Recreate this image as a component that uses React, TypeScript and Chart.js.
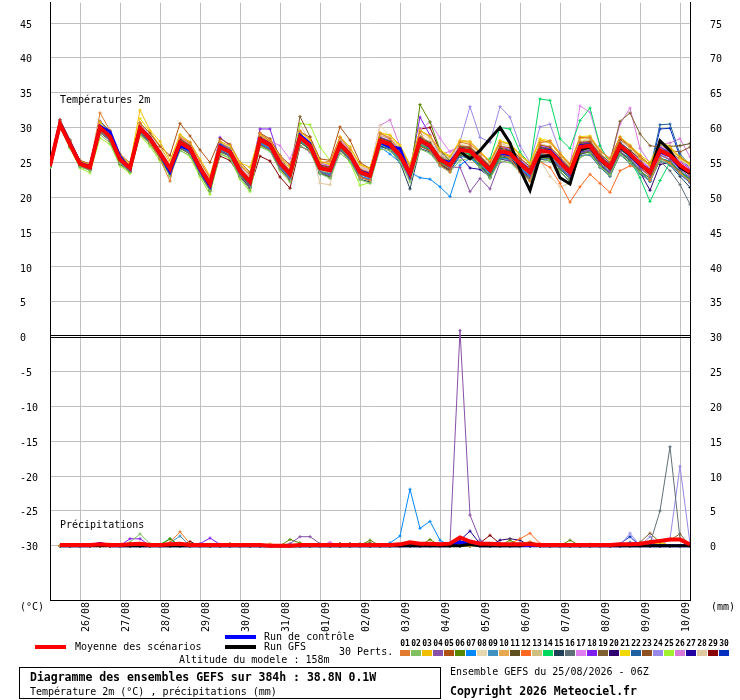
import React, { useEffect, useRef } from 'react';
import { Chart, registerables } from 'chart.js';

Chart.register(...registerables);

// ---------- axes / categories ----------
const forecastHours = [0, 6, 12, 18, 24, 30, 36, 42, 48, 54, 60, 66, 72, 78, 84, 90, 96, 102, 108, 114, 120, 126, 132, 138, 144, 150, 156, 162, 168, 174, 180, 186, 192, 198, 204, 210, 216, 222, 228, 234, 240, 246, 252, 258, 264, 270, 276, 282, 288, 294, 300, 306, 312, 318, 324, 330, 336, 342, 348, 354, 360, 366, 372, 378, 384];
const precipHours = forecastHours.slice(1);
const dayTickHours = [18, 42, 66, 90, 114, 138, 162, 186, 210, 234, 258, 282, 306, 330, 354, 378];
const dateLabels = ['26/08', '27/08', '28/08', '29/08', '30/08', '31/08', '01/09', '02/09', '03/09', '04/09', '05/09', '06/09', '07/09', '08/09', '09/09', '10/09'];
const tempTicks = [-30, -25, -20, -15, -10, -5, 0, 5, 10, 15, 20, 25, 30, 35, 40, 45];
const precipTicks = [0, 5, 10, 15, 20, 25, 30, 35, 40, 45, 50, 55, 60, 65, 70, 75];
const memberNames = ['01', '02', '03', '04', '05', '06', '07', '08', '09', '10', '11', '12', '13', '14', '15', '16', '17', '18', '19', '20', '21', '22', '23', '24', '25', '26', '27', '28', '29', '30'];
const memberColors = ['#e07b30', '#80c060', '#f0c000', '#8850a8', '#b05010', '#588800', '#0088ff', '#e8d8b0', '#4090c0', '#e8a850', '#605020', '#ff6820', '#d0c080', '#00d860', '#204058', '#607078', '#e080f0', '#8020f0', '#806030', '#300070', '#f0d800', '#2060a0', '#905020', '#9888e8', '#a0f030', '#d878d8', '#2000a0', '#e0c8a0', '#880000', '#0030c0'];

// ---------- texts ----------
const tempPanelLabel = 'Températures 2m';
const precipPanelLabel = 'Précipitations';
const leftUnit = '(°C)';
const rightUnit = '(mm)';
const meanLabel = 'Moyenne des scénarios';
const controlLabel = 'Run de contrôle';
const gfsLabel = 'Run GFS';
const pertsLabel = '30 Perts.';
const altitudeLabel = 'Altitude du modele : 158m';
const titleLine1 = 'Diagramme des ensembles GEFS sur 384h : 38.8N 0.1W';
const titleLine2 = 'Température 2m (°C) , précipitations (mm)';
const runLabel = 'Ensemble GEFS du 25/08/2026 - 06Z';
const copyrightLabel = 'Copyright 2026 Meteociel.fr';

// ---------- temperature 2m (°C), every 6 h ----------
const meanTemp = [
  24.5, 30.5, 27.6, 24.8, 24.3, 30.0, 28.7, 25.4,
  24.2, 29.9, 28.4, 26.3, 24.1, 27.9, 27.0, 24.2,
  21.9, 27.2, 26.5, 23.8, 22.2, 28.3, 27.5, 24.9,
  23.3, 28.6, 27.4, 24.2, 23.9, 27.6, 26.1, 23.6,
  23.1, 28.1, 27.6, 26.0, 23.4, 28.2, 27.4, 25.4,
  24.6, 26.8, 26.6, 25.3, 23.9, 26.6, 26.3, 24.8,
  23.6, 26.7, 26.5, 25.0, 23.6, 27.2, 27.4, 25.5,
  24.3, 27.4, 26.2, 24.8, 23.6, 26.7, 26.0, 24.6,
  23.6];
const controlTemp = [
  24.5, 30.6, 27.8, 24.9, 24.4, 30.2, 29.4, 25.8,
  24.1, 29.9, 28.5, 26.2, 23.6, 27.4, 26.8, 23.9,
  21.6, 27.4, 26.6, 23.8, 22.1, 28.4, 27.6, 25.0,
  23.4, 28.9, 27.7, 24.3, 23.9, 27.6, 26.1, 23.7,
  23.3, 27.9, 27.2, 27.0, 23.2, 28.3, 27.2, 25.3,
  25.0, 26.9, 26.6, 25.3, 24.0, 26.4, 26.1, 24.9,
  23.5, 26.6, 26.7, 25.2, 23.4, 27.4, 27.5, 25.4,
  24.4, 27.3, 26.0, 24.6, 23.7, 26.5, 25.9, 24.3,
  23.5];
const gfsTemp = [
  24.5, 30.5, 27.6, 24.8, 24.3, 30.0, 28.7, 25.4,
  24.2, 29.9, 28.4, 26.3, 24.1, 27.9, 27.0, 24.2,
  21.9, 27.2, 26.5, 23.8, 22.2, 28.3, 27.5, 24.9,
  23.3, 28.6, 27.4, 24.2, 23.9, 27.6, 26.1, 23.6,
  23.1, 28.1, 27.6, 26.0, 23.4, 28.2, 27.4, 25.4,
  24.6, 26.6, 25.5, 26.7, 28.4, 30.0, 27.8, 24.0,
  21.0, 25.8, 26.0, 22.8, 21.9, 26.8, 27.2, 25.4,
  24.2, 27.2, 26.1, 24.7, 23.5, 28.1, 26.7, 24.3,
  23.4];

const t01 = [
  24.6, 30.9, 28.0, 25.2, 24.6, 32.1, 29.6, 26.0,
  24.0, 30.7, 27.9, 25.5, 22.3, 28.6, 27.8, 25.2,
  22.8, 27.9, 26.9, 24.6, 23.3, 29.2, 28.0, 25.7,
  23.8, 29.5, 26.8, 24.9, 25.2, 28.6, 26.8, 22.9,
  22.4, 29.2, 28.4, 26.8, 24.4, 29.4, 26.8, 24.6,
  23.6, 27.9, 27.6, 26.4, 25.0, 27.8, 25.6, 23.6,
  22.3, 27.8, 28.1, 26.2, 24.8, 28.6, 28.5, 26.6,
  25.6, 28.6, 27.3, 25.9, 22.4, 25.6, 24.9, 23.5,
  22.3];
const t02 = [
  24.3, 30.1, 27.1, 24.4, 23.8, 29.0, 27.8, 24.8,
  23.6, 29.0, 27.6, 25.5, 23.0, 26.7, 26.0, 23.2,
  20.9, 26.2, 25.6, 22.8, 21.0, 27.2, 26.6, 23.8,
  22.2, 27.4, 26.6, 23.4, 22.7, 26.3, 25.2, 22.5,
  22.0, 26.9, 26.7, 25.1, 22.2, 26.9, 26.3, 24.5,
  23.6, 25.3, 25.6, 24.3, 22.7, 25.2, 25.0, 23.6,
  22.4, 25.1, 25.3, 23.7, 22.3, 25.7, 26.3, 24.4,
  23.2, 26.2, 25.0, 23.6, 22.4, 25.3, 24.8, 23.5,
  22.4];
const t03 = [
  24.6, 30.8, 28.1, 25.2, 24.7, 30.8, 29.4, 26.0,
  24.8, 32.5, 29.6, 28.0, 25.3, 29.0, 27.9, 25.5,
  23.1, 28.0, 27.4, 25.0, 24.3, 29.0, 28.1, 25.8,
  24.4, 29.4, 28.3, 25.2, 24.7, 28.6, 27.2, 24.7,
  24.1, 29.2, 28.9, 27.5, 24.7, 29.6, 28.8, 26.8,
  25.9, 28.0, 27.9, 26.4, 25.2, 28.1, 27.6, 26.0,
  24.8, 28.2, 27.9, 26.1, 24.6, 28.4, 28.6, 26.7,
  25.4, 28.6, 27.2, 25.7, 24.6, 27.8, 27.1, 25.6,
  24.7];
const t04 = [
  24.4, 30.1, 27.3, 24.5, 24.0, 29.4, 28.1, 24.9,
  23.8, 29.2, 27.9, 25.9, 23.6, 27.1, 26.3, 23.5,
  21.2, 26.6, 25.9, 23.1, 21.5, 27.6, 26.8, 24.2,
  22.6, 27.4, 26.5, 23.6, 23.1, 26.7, 25.5, 22.9,
  22.5, 27.8, 27.3, 25.6, 22.7, 27.9, 27.2, 25.3,
  24.3, 24.3, 20.8, 22.7, 21.2, 25.0, 25.4, 23.9,
  22.8, 25.9, 25.7, 24.3, 22.9, 26.4, 26.7, 24.8,
  23.6, 26.6, 25.5, 24.1, 23.0, 26.0, 25.4, 24.0,
  22.9];
const t05 = [
  24.6, 31.1, 28.2, 25.3, 24.8, 30.8, 29.4, 26.2,
  24.9, 30.6, 29.2, 27.3, 26.0, 30.6, 28.8, 26.8,
  25.0, 28.4, 27.6, 25.0, 23.6, 29.2, 28.4, 26.0,
  24.6, 29.4, 28.6, 25.5, 25.3, 30.1, 28.2, 25.0,
  24.1, 28.0, 27.1, 25.6, 22.8, 27.3, 26.7, 24.8,
  24.0, 27.3, 27.2, 25.9, 24.5, 27.3, 27.1, 25.6,
  24.4, 27.5, 27.2, 25.7, 24.2, 27.9, 28.0, 26.2,
  25.0, 28.3, 27.3, 25.9, 24.6, 27.8, 27.0, 25.7,
  24.8];
const t06 = [
  24.3, 30.2, 27.2, 24.4, 23.9, 29.3, 28.2, 24.7,
  23.7, 29.2, 27.7, 25.5, 23.2, 27.0, 26.2, 23.4,
  21.0, 26.5, 25.9, 23.2, 21.6, 27.5, 26.7, 24.1,
  22.6, 27.9, 26.9, 23.5, 23.0, 27.0, 25.5, 22.9,
  22.4, 28.0, 27.3, 25.6, 22.9, 33.3, 30.8, 26.8,
  25.2, 26.1, 26.0, 24.7, 23.1, 25.8, 25.6, 23.9,
  22.6, 25.7, 25.5, 24.1, 22.6, 26.3, 26.5, 24.6,
  23.3, 26.5, 25.3, 23.8, 22.7, 25.6, 25.1, 23.7,
  22.6];
const t07 = [
  24.5, 30.6, 27.6, 24.8, 24.4, 30.3, 29.0, 25.5,
  24.3, 30.1, 28.6, 26.3, 23.7, 27.4, 26.5, 23.7,
  21.4, 27.7, 27.0, 24.2, 22.4, 27.8, 26.9, 24.2,
  22.8, 28.0, 26.8, 23.4, 23.2, 26.9, 25.4, 23.0,
  22.6, 27.2, 26.2, 25.0, 23.6, 22.8, 22.6, 21.5,
  20.1, 24.6, 25.6, 24.7, 23.4, 25.8, 25.4, 24.2,
  23.0, 25.9, 25.7, 24.2, 22.8, 26.4, 26.5, 24.6,
  23.5, 26.5, 25.3, 23.8, 22.6, 25.6, 25.2, 23.7,
  22.8];
const t08 = [
  24.5, 30.9, 27.9, 25.1, 24.6, 30.6, 29.3, 25.9,
  24.6, 30.7, 29.1, 27.0, 24.9, 28.7, 27.8, 25.0,
  22.7, 28.0, 27.2, 24.6, 23.0, 29.0, 28.3, 25.8,
  24.1, 29.4, 28.3, 25.0, 24.7, 28.5, 26.9, 24.4,
  23.9, 30.3, 28.8, 26.9, 24.1, 29.2, 28.3, 26.2,
  25.4, 27.6, 27.4, 26.1, 24.7, 27.6, 27.3, 25.7,
  24.5, 27.6, 27.4, 25.9, 24.4, 28.1, 28.4, 26.4,
  25.1, 28.3, 27.1, 25.6, 24.5, 27.6, 26.9, 25.5,
  24.5];
const t09 = [
  24.4, 30.3, 27.4, 24.6, 24.1, 29.6, 28.3, 25.0,
  23.8, 29.5, 28.0, 25.8, 23.6, 27.3, 26.5, 23.7,
  21.3, 26.8, 26.1, 23.4, 21.7, 27.8, 27.0, 24.4,
  22.8, 28.1, 26.9, 23.7, 23.3, 27.0, 25.6, 23.0,
  22.6, 27.5, 27.0, 25.3, 22.7, 27.4, 26.6, 24.5,
  23.7, 25.9, 25.7, 24.4, 22.9, 25.6, 25.4, 23.8,
  22.5, 25.6, 25.3, 23.8, 22.3, 25.9, 26.1, 24.3,
  23.1, 26.2, 25.0, 23.5, 22.3, 25.3, 24.7, 23.3,
  22.2];
const t10 = [
  24.6, 30.7, 27.9, 25.1, 24.5, 30.5, 29.2, 25.9,
  24.6, 30.7, 29.2, 27.3, 24.9, 28.8, 27.9, 25.0,
  22.9, 28.0, 27.2, 24.6, 23.0, 29.1, 28.3, 25.7,
  24.2, 29.5, 28.3, 25.1, 24.8, 28.6, 27.1, 24.6,
  24.1, 29.1, 28.6, 27.1, 24.5, 29.5, 28.6, 26.5,
  25.7, 28.1, 28.0, 26.5, 25.1, 27.9, 27.6, 26.1,
  24.9, 28.1, 27.8, 26.2, 24.8, 28.5, 28.7, 26.7,
  25.5, 28.6, 27.4, 25.9, 24.7, 27.9, 27.2, 25.6,
  24.8];
const t11 = [
  24.5, 30.5, 27.6, 24.8, 24.3, 30.1, 28.9, 25.5,
  24.0, 30.0, 28.7, 26.6, 24.4, 28.3, 27.4, 24.6,
  22.3, 27.4, 26.7, 24.0, 22.5, 28.6, 27.7, 25.1,
  23.5, 28.9, 27.8, 24.6, 24.3, 27.9, 26.4, 23.9,
  23.4, 28.5, 28.0, 26.4, 23.7, 28.6, 27.8, 25.7,
  24.9, 27.2, 27.0, 25.7, 24.3, 27.0, 26.7, 25.2,
  24.0, 27.1, 26.9, 25.4, 24.0, 27.6, 27.8, 25.9,
  24.7, 27.8, 26.7, 25.5, 24.8, 27.5, 27.3, 27.4,
  27.7];
const t12 = [
  24.6, 30.7, 27.8, 25.0, 24.5, 30.4, 29.1, 25.7,
  24.4, 30.2, 28.7, 26.6, 24.6, 28.4, 27.5, 24.7,
  22.4, 27.6, 26.9, 24.2, 22.6, 28.7, 27.9, 25.3,
  23.7, 29.0, 27.8, 24.6, 24.3, 28.0, 26.5, 24.0,
  23.5, 28.4, 27.9, 26.3, 23.7, 28.4, 27.6, 25.5,
  24.7, 26.9, 26.6, 25.3, 23.9, 26.5, 25.5, 23.7,
  22.7, 25.1, 24.3, 22.0, 19.3, 21.5, 23.3, 22.0,
  20.7, 23.8, 24.5, 24.1, 23.3, 26.1, 25.4, 24.1,
  23.2];
const t13 = [
  24.5, 30.3, 27.3, 24.5, 24.0, 29.4, 28.2, 25.0,
  23.9, 29.5, 28.2, 26.1, 23.9, 28.2, 27.3, 24.5,
  22.3, 27.6, 26.9, 24.2, 22.8, 28.9, 28.0, 25.3,
  23.6, 28.5, 27.0, 23.8, 23.6, 28.1, 26.7, 24.1,
  23.7, 28.9, 28.3, 26.7, 24.2, 28.7, 27.9, 26.0,
  25.3, 27.5, 27.3, 26.0, 24.6, 27.7, 27.3, 25.7,
  24.4, 27.6, 27.3, 25.7, 24.4, 28.1, 28.2, 26.3,
  25.1, 28.2, 27.0, 25.6, 24.5, 27.5, 26.8, 25.4,
  24.6];
const t14 = [
  24.4, 30.2, 27.3, 24.5, 24.0, 29.4, 28.2, 24.9,
  23.8, 29.3, 27.8, 25.7, 23.4, 27.2, 26.3, 23.5,
  21.2, 26.5, 25.9, 23.2, 21.6, 27.6, 26.9, 24.3,
  22.8, 28.0, 26.9, 23.7, 23.3, 26.9, 25.5, 22.9,
  22.5, 27.6, 27.0, 25.4, 22.8, 27.5, 26.9, 25.0,
  24.4, 26.5, 26.2, 25.1, 25.5, 30.0, 29.8, 26.5,
  24.6, 34.1, 33.9, 28.4, 27.0, 31.0, 32.8, 27.4,
  24.8, 27.6, 25.3, 22.8, 19.4, 22.4, 25.0, 23.8,
  22.3];
const t15 = [
  24.4, 30.2, 27.3, 24.5, 23.9, 29.5, 28.3, 25.0,
  23.8, 29.4, 27.9, 25.7, 23.4, 27.2, 26.3, 23.3,
  20.9, 26.6, 25.9, 23.0, 21.3, 27.6, 26.8, 24.1,
  22.5, 28.0, 26.8, 23.4, 22.9, 26.8, 25.3, 22.6,
  22.2, 27.3, 26.8, 25.0, 21.2, 27.0, 26.5, 24.7,
  23.9, 25.9, 25.6, 24.3, 22.8, 25.5, 25.2, 23.7,
  22.4, 25.5, 25.2, 23.7, 22.2, 26.0, 26.1, 24.3,
  23.0, 26.1, 24.9, 23.4, 22.3, 25.3, 24.6, 23.0,
  21.4];
const t16 = [
  24.5, 30.5, 27.6, 24.8, 24.3, 30.0, 28.5, 25.2,
  24.2, 29.7, 28.1, 26.0, 23.8, 27.6, 26.7, 23.9,
  21.6, 26.9, 26.3, 23.6, 22.0, 28.0, 27.2, 24.6,
  23.1, 28.3, 27.1, 23.9, 23.6, 27.3, 25.8, 23.3,
  22.8, 27.7, 27.1, 25.5, 23.0, 27.6, 26.7, 24.9,
  24.2, 26.4, 26.2, 24.9, 23.5, 26.1, 25.8, 24.3,
  23.1, 26.2, 26.0, 24.5, 23.1, 26.7, 26.8, 24.9,
  23.8, 26.9, 25.7, 24.3, 23.0, 25.2, 23.8, 21.8,
  19.0];
const t17 = [
  24.6, 30.9, 28.0, 25.2, 24.6, 30.5, 29.3, 26.0,
  24.5, 30.4, 29.0, 26.9, 24.6, 28.5, 27.6, 24.8,
  22.5, 27.7, 27.0, 24.5, 22.9, 28.9, 28.1, 27.4,
  25.5, 29.1, 28.0, 24.8, 24.5, 28.3, 26.8, 24.4,
  23.8, 28.9, 28.4, 26.8, 24.1, 29.7, 30.8, 28.5,
  26.5, 27.3, 27.3, 26.0, 24.6, 27.3, 27.0, 25.5,
  24.2, 27.5, 27.2, 25.7, 24.6, 33.1, 32.2, 27.3,
  25.0, 28.3, 27.0, 25.5, 24.2, 27.4, 26.6, 25.2,
  24.2];
const t18 = [
  24.5, 30.8, 27.9, 25.0, 24.5, 30.4, 29.1, 25.7,
  24.4, 30.1, 28.6, 26.5, 24.5, 28.4, 27.5, 24.6,
  22.5, 28.6, 27.4, 24.4, 23.2, 29.8, 29.8, 25.3,
  23.8, 29.1, 27.9, 24.7, 24.4, 28.1, 26.6, 24.1,
  23.6, 28.6, 28.1, 26.5, 23.9, 31.5, 28.9, 26.1,
  25.3, 27.4, 27.2, 25.8, 24.4, 27.2, 26.9, 25.3,
  24.1, 27.3, 27.0, 25.5, 24.1, 27.8, 27.9, 26.0,
  24.8, 27.9, 26.7, 25.3, 24.1, 27.2, 26.5, 25.1,
  24.1];
const t19 = [
  24.5, 30.4, 27.5, 24.7, 24.2, 29.8, 28.5, 25.2,
  24.0, 29.6, 28.3, 26.2, 24.0, 28.1, 27.3, 24.5,
  22.3, 27.5, 26.8, 24.1, 22.5, 28.6, 27.8, 25.3,
  23.8, 31.6, 28.7, 25.0, 24.5, 28.1, 26.6, 24.0,
  23.4, 28.4, 28.0, 26.4, 23.7, 28.7, 27.9, 25.9,
  25.0, 27.3, 27.1, 25.7, 24.3, 27.1, 26.7, 25.2,
  24.0, 27.2, 27.0, 25.4, 24.0, 27.7, 27.9, 26.0,
  25.2, 30.9, 32.1, 29.1, 27.4, 27.2, 26.3, 25.2,
  24.2];
const t20 = [
  24.4, 30.2, 27.3, 24.5, 24.0, 29.5, 28.2, 24.9,
  23.7, 29.3, 27.9, 25.8, 23.5, 27.3, 26.5, 23.7,
  21.3, 26.7, 26.0, 23.3, 21.7, 27.7, 26.9, 24.3,
  22.7, 27.9, 26.8, 23.6, 23.2, 26.9, 25.4, 22.9,
  22.4, 27.4, 27.0, 25.3, 22.6, 27.5, 26.8, 24.7,
  23.8, 25.9, 25.8, 24.5, 23.0, 25.7, 25.5, 23.9,
  22.7, 25.8, 25.6, 24.1, 22.6, 26.2, 26.5, 24.6,
  23.4, 26.5, 25.2, 23.6, 21.0, 24.7, 25.0, 23.7,
  22.6];
const t21 = [
  24.6, 30.8, 28.0, 25.2, 24.7, 30.7, 29.4, 26.1,
  24.7, 31.3, 29.4, 27.4, 24.9, 28.9, 27.9, 25.0,
  22.9, 27.9, 27.3, 24.7, 23.5, 29.0, 28.2, 25.7,
  24.2, 29.3, 28.3, 25.1, 24.8, 28.7, 27.2, 24.7,
  24.2, 29.3, 28.9, 27.3, 24.6, 29.6, 28.7, 26.6,
  25.8, 28.2, 28.0, 26.6, 25.2, 28.1, 27.7, 26.2,
  25.0, 28.4, 28.1, 26.4, 24.8, 28.7, 28.8, 26.8,
  25.5, 28.7, 27.5, 26.1, 25.0, 28.0, 27.3, 25.8,
  24.9];
const t22 = [
  24.5, 30.6, 27.7, 24.9, 24.4, 30.3, 29.0, 25.6,
  24.3, 30.1, 28.6, 26.5, 24.3, 28.0, 27.1, 24.3,
  22.0, 27.4, 26.7, 24.0, 22.4, 28.5, 27.7, 25.1,
  23.5, 28.8, 27.6, 24.4, 24.1, 27.8, 26.3, 23.8,
  23.3, 28.3, 27.8, 26.2, 23.6, 28.4, 27.6, 25.6,
  24.8, 27.0, 26.8, 25.5, 24.1, 26.8, 26.5, 25.0,
  23.8, 26.9, 26.7, 25.2, 23.8, 27.4, 27.7, 25.7,
  24.5, 27.7, 26.4, 25.0, 24.0, 30.4, 30.5, 26.2,
  24.6];
const t23 = [
  24.4, 30.3, 27.4, 24.6, 24.1, 29.6, 28.3, 25.0,
  23.9, 29.4, 28.0, 25.9, 23.7, 27.5, 26.6, 23.8,
  21.4, 26.8, 26.1, 23.4, 21.8, 27.9, 27.1, 24.5,
  22.9, 28.2, 27.0, 23.8, 23.5, 27.2, 25.8, 23.3,
  22.8, 27.7, 27.2, 25.6, 23.0, 27.7, 27.0, 25.0,
  24.2, 26.4, 26.2, 24.9, 23.5, 26.2, 25.9, 24.4,
  23.2, 26.3, 26.1, 24.6, 23.2, 26.8, 27.0, 25.1,
  24.0, 26.9, 25.8, 24.5, 23.9, 26.6, 26.7, 26.5,
  27.2];
const t24 = [
  24.5, 30.6, 27.7, 24.9, 24.4, 30.2, 28.9, 25.6,
  24.3, 30.0, 28.5, 26.5, 24.3, 28.1, 27.2, 24.4,
  22.1, 27.4, 26.7, 24.0, 22.4, 28.5, 27.7, 25.1,
  23.6, 28.8, 27.6, 24.4, 24.1, 27.8, 26.3, 23.9,
  23.4, 28.4, 27.9, 26.4, 23.8, 28.6, 27.9, 26.3,
  25.4, 28.0, 33.0, 28.6, 27.9, 33.0, 31.5, 27.4,
  25.0, 30.1, 30.5, 26.5, 24.0, 27.3, 27.5, 25.6,
  24.4, 27.5, 26.3, 24.9, 23.8, 26.4, 25.4, 23.4,
  23.0];
const t25 = [
  24.3, 30.0, 27.0, 24.2, 23.5, 28.5, 27.6, 24.5,
  23.4, 28.8, 27.3, 25.2, 23.1, 26.8, 25.8, 22.9,
  20.4, 26.3, 25.6, 22.6, 20.8, 27.3, 26.8, 24.0,
  22.3, 30.6, 30.4, 27.2, 25.3, 26.8, 25.0, 21.7,
  22.1, 27.3, 27.0, 25.3, 22.8, 27.6, 26.8, 24.9,
  24.2, 26.4, 26.3, 25.0, 23.7, 26.7, 26.4, 24.8,
  23.6, 26.7, 26.6, 25.0, 23.6, 27.6, 28.7, 26.2,
  24.4, 27.6, 26.3, 24.9, 23.8, 27.2, 26.5, 25.1,
  24.9];
const t26 = [
  24.6, 30.8, 28.0, 25.1, 24.6, 30.4, 29.1, 25.7,
  24.4, 30.3, 28.8, 26.7, 24.5, 28.4, 27.4, 24.6,
  22.4, 27.6, 26.9, 24.3, 22.7, 28.7, 28.1, 25.9,
  24.7, 29.1, 28.0, 24.8, 24.5, 28.2, 26.7, 24.3,
  24.0, 30.3, 31.1, 27.3, 24.1, 28.6, 27.6, 26.1,
  26.6, 27.4, 27.1, 25.8, 24.4, 27.3, 27.0, 25.5,
  24.3, 27.5, 27.2, 25.7, 24.4, 27.8, 28.0, 26.1,
  25.2, 30.5, 32.8, 27.0, 24.9, 27.6, 27.8, 28.4,
  25.8];
const t27 = [
  24.5, 30.4, 27.5, 24.7, 24.2, 29.8, 28.5, 25.2,
  23.9, 29.6, 28.1, 26.0, 23.8, 27.6, 26.7, 23.9,
  21.5, 26.9, 26.2, 23.5, 21.9, 28.0, 27.2, 24.6,
  23.0, 28.3, 27.1, 23.9, 23.6, 27.3, 25.8, 23.3,
  22.8, 27.8, 27.3, 25.7, 23.1, 27.9, 27.1, 25.1,
  24.3, 25.9, 24.2, 24.0, 22.9, 26.0, 25.7, 24.1,
  22.8, 26.1, 25.8, 24.3, 22.9, 26.5, 26.7, 24.7,
  23.5, 26.6, 25.3, 23.8, 22.3, 25.6, 24.9, 23.3,
  22.1];
const t28 = [
  24.5, 30.7, 27.7, 24.9, 24.4, 30.0, 28.7, 25.4,
  24.2, 30.1, 28.6, 26.5, 24.2, 28.1, 27.0, 24.3,
  21.9, 27.4, 26.7, 24.0, 22.4, 28.4, 27.6, 24.7,
  22.8, 30.5, 27.8, 22.0, 21.8, 27.8, 26.3, 23.6,
  23.2, 28.7, 28.1, 26.4, 23.7, 28.7, 27.8, 25.8,
  24.9, 27.1, 26.9, 25.6, 24.2, 26.9, 26.4, 24.2,
  23.0, 25.4, 23.0, 21.5, 22.0, 26.3, 26.8, 25.0,
  24.0, 27.2, 26.0, 24.6, 23.5, 26.5, 25.9, 24.6,
  23.5];
const t29 = [
  24.3, 30.1, 27.2, 24.4, 23.9, 29.3, 28.1, 24.8,
  23.6, 29.1, 27.8, 25.7, 23.3, 27.1, 26.2, 23.4,
  21.0, 25.9, 25.3, 23.0, 21.4, 25.9, 25.2, 22.9,
  21.3, 27.3, 26.7, 23.7, 23.3, 27.0, 25.5, 23.0,
  22.5, 27.5, 27.1, 25.5, 22.9, 29.8, 30.0, 26.6,
  24.9, 27.0, 26.8, 25.5, 24.4, 26.8, 26.6, 25.1,
  23.8, 26.9, 26.7, 25.2, 23.8, 27.4, 27.6, 25.7,
  24.5, 27.6, 26.4, 25.0, 23.8, 26.9, 26.4, 25.5,
  24.8];
const t30 = [
  24.6, 31.1, 28.2, 25.2, 24.7, 30.9, 29.5, 25.9,
  24.5, 30.3, 28.8, 26.6, 24.2, 28.0, 27.0, 24.1,
  21.8, 27.8, 27.0, 24.2, 22.5, 28.8, 27.9, 25.3,
  23.6, 29.1, 27.9, 24.4, 24.0, 27.8, 26.3, 23.8,
  23.3, 28.4, 27.8, 26.3, 23.7, 28.5, 27.7, 25.7,
  24.9, 27.1, 26.9, 25.6, 24.2, 27.0, 26.7, 25.2,
  23.9, 27.1, 26.9, 25.4, 23.9, 27.5, 27.7, 25.8,
  24.6, 27.7, 26.4, 25.0, 23.7, 29.8, 29.9, 25.8,
  24.2];

// ---------- precipitation (mm / 6 h), from +6 h ----------
const meanPrecip = [
  0.1, 0.1, 0.1, 0.1, 0.2, 0.1, 0.1, 0.2, 0.3, 0.1, 0.1, 0.2, 0.3, 0.1, 0.1, 0.1,
  0.1, 0.1, 0.1, 0.1, 0.1, 0.0, 0.0, 0.0, 0.1, 0.1, 0.1, 0.1, 0.1, 0.1, 0.1, 0.1,
  0.1, 0.1, 0.2, 0.5, 0.3, 0.3, 0.2, 0.3, 1.2, 0.6, 0.3, 0.3, 0.2, 0.2, 0.2, 0.2,
  0.1, 0.1, 0.1, 0.1, 0.1, 0.1, 0.1, 0.1, 0.2, 0.2, 0.3, 0.5, 0.7, 0.9, 0.9, 0.2];
const controlPrecip = [
  0, 0, 0, 0, 0.3, 0, 0, 0, 0, 0, 0, 0, 0, 0, 0, 0,
  0, 0, 0, 0, 0, 0, 0, 0, 0, 0, 0, 0, 0, 0, 0, 0,
  0, 0, 0, 0, 0, 0, 0, 0, 0.5, 0.4, 0, 0, 0, 0, 0, 0,
  0, 0, 0, 0, 0, 0, 0, 0, 0, 0, 0, 0, 0, 0, 0, 0];
const gfsPrecip = [
  0, 0, 0, 0, 0, 0, 0, 0, 0, 0, 0, 0, 0, 0, 0, 0,
  0, 0, 0, 0, 0, 0, 0, 0, 0, 0, 0, 0, 0, 0, 0, 0,
  0, 0, 0, 0, 0, 0, 0, 0, 0, 0.2, 0, 0, 0, 0, 0, 0.3,
  0, 0, 0, 0, 0, 0, 0, 0, 0, 0, 0, 0, 0, 0, 0, 0];
const p01 = [
  0, 0, 0, 0, 0, 0, 0, 0, 0, 0, 0, 0.5, 2.0, 0.3, 0, 0,
  0, 0.3, 0, 0, 0, 0, 0, 0, 0, 0, 0, 0, 0, 0, 0, 0,
  0, 0, 0, 0, 0, 0, 0, 0, 0, 0, 0, 0, 0, 0, 0.3, 0.6,
  0.2, 0, 0, 0, 0, 0, 0, 0, 0, 0, 0, 0, 0, 0, 0, 0];
const p02 = [
  0, 0, 0, 0, 0, 0, 0, 0.5, 1.7, 0.3, 0, 0, 0, 0, 0, 0,
  0, 0, 0, 0, 0, 0, 0, 0, 0, 0, 0, 0, 0, 0, 0, 0,
  0, 0, 0, 0, 0, 0, 0, 0, 0.4, 0, 0, 0, 0, 0, 0, 0,
  0, 0, 0, 0, 0, 0, 0, 0, 0, 0, 0, 0, 0, 0, 0, 0];
const p03 = [
  0, 0, 0, 0, 0, 0, 0, 0, 0, 0, 0, 0, 0, 0, 0, 0,
  0, 0, 0, 0, 0, 0, 0, 0, 0, 0, 0, 0, 0, 0, 0, 0,
  0, 0, 0, 0, 0, 0, 0, 0, 0.5, 0, 0, 0, 0, 0, 0, 0,
  0, 0, 0, 0, 0, 0, 0, 0, 0, 0, 0, 0, 0.6, 0, 0, 0];
const p04 = [
  0, 0, 0, 0, 0, 0, 0, 0, 0, 0, 0, 0, 0, 0, 0, 0,
  0, 0, 0, 0, 0, 0, 0, 0.3, 1.3, 1.3, 0.3, 0, 0, 0, 0, 0,
  0, 0, 0, 0, 0, 0, 0, 0.3, 30.9, 4.4, 0.8, 0, 0, 0, 0, 0,
  0, 0, 0, 0, 0, 0, 0, 0, 0, 0, 0, 0, 0, 0, 0, 0];
const p05 = [
  0, 0, 0, 0, 0, 0, 0, 0, 0, 0, 0, 0, 0, 0, 0, 0,
  0, 0.3, 0, 0, 0, 0, 0, 0, 0, 0, 0, 0, 0, 0, 0, 0,
  0, 0, 0, 0, 0, 0, 0, 0, 0, 0, 0, 0, 0.3, 0, 0, 0,
  0, 0, 0, 0, 0, 0, 0, 0, 0, 0, 0, 0, 0, 0, 0, 0];
const p06 = [
  0, 0, 0, 0, 0, 0, 0, 0, 0, 0, 0, 1.0, 0, 0, 0, 0,
  0, 0, 0, 0, 0, 0, 0, 0.9, 0.4, 0, 0, 0, 0, 0, 0, 0.8,
  0, 0, 0, 0, 0, 0.9, 0, 0, 0, 0, 0, 0, 0, 0.8, 0, 0,
  0, 0, 0, 0.8, 0, 0, 0, 0, 0, 0, 0, 0, 0, 0, 0, 0];
const p07 = [
  0, 0, 0, 0, 0, 0, 0, 0, 0, 0, 0, 0, 0, 0, 0, 0,
  0, 0, 0, 0, 0, 0, 0, 0, 0, 0, 0, 0, 0, 0, 0, 0,
  0, 0.4, 1.4, 8.1, 2.5, 3.5, 0.8, 0, 0, 0, 0, 0, 0, 0, 0, 0,
  0, 0, 0, 0, 0, 0, 0, 0, 0, 0, 0, 0, 0, 0, 0, 0];
const p08 = [
  0, 0, 0, 0, 0.3, 0.3, 0, 0, 0, 0, 0, 0, 0, 0, 0, 0,
  0, 0, 0, 0, 0, 0, 0, 0, 0, 0, 0, 0, 0, 0, 0, 0,
  0, 0, 0, 0, 0, 0, 0, 0, 0, 0, 0, 0, 0, 0, 0, 0,
  0, 0, 0, 0, 0, 0, 0, 0, 0, 0, 0, 0, 0, 0, 0, 0];
const p09 = [
  0, 0, 0, 0, 0, 0, 0, 0, 0, 0, 0, 0.4, 1.4, 0, 0, 0,
  0, 0, 0, 0, 0, 0, 0, 0, 0, 0, 0, 0, 0, 0, 0, 0,
  0, 0, 0, 0, 0, 0, 0, 0, 0, 0, 0, 0, 0, 0, 0, 0,
  0, 0, 0, 0, 0, 0, 0, 0, 0, 0, 0, 0, 0, 0, 0, 0];
const p10 = [
  0, 0, 0, 0, 0, 0, 0, 0, 0, 0, 0, 0, 0, 0, 0, 0,
  0, 0, 0, 0, 0, 0.3, 0, 0, 0, 0, 0, 0, 0, 0, 0, 0,
  0, 0, 0, 0, 0, 0, 0, 0, 0, 0, 0, 0, 0, 0, 0, 0,
  0, 0, 0, 0, 0, 0, 0, 0, 0, 0, 0, 0, 0, 0, 0, 0];
const p11 = [
  0, 0, 0, 0, 0, 0, 0, 0, 0, 0, 0, 0, 0, 0, 0, 0,
  0, 0, 0, 0, 0, 0, 0, 0, 0, 0, 0, 0, 0.3, 0.3, 0.3, 0.4,
  0, 0, 0, 0, 0, 0, 0, 0, 0, 0, 0, 0, 0, 0, 0, 0,
  0, 0, 0, 0, 0, 0, 0, 0, 0, 0, 0, 0, 0, 0, 0, 0];
const p12 = [
  0, 0, 0, 0, 0, 0, 0, 0, 0, 0, 0, 0, 0, 0, 0, 0,
  0, 0, 0, 0, 0, 0, 0, 0, 0, 0, 0, 0, 0, 0, 0, 0,
  0, 0, 0, 0, 0, 0, 0, 0, 0, 0, 0, 0, 0, 0.3, 1.0, 1.8,
  0.3, 0, 0, 0, 0, 0, 0, 0, 0, 0, 0, 0, 0, 0, 0, 0];
const p13 = [
  0, 0, 0, 0, 0, 0, 0, 0, 0, 0, 0, 0, 0, 0, 0, 0,
  0, 0, 0, 0, 0, 0, 0, 0, 0, 0, 0, 0, 0, 0, 0, 0,
  0, 0, 0, 0, 0, 0, 0, 0, 0, 0, 0, 0, 0, 0, 0, 0,
  0, 0, 0, 0, 0, 0.3, 0, 0, 0, 0, 0, 0, 0, 0, 0, 0];
const p14 = [
  0, 0, 0, 0, 0, 0, 0, 0, 0, 0, 0.2, 1.0, 0, 0, 0, 0,
  0, 0, 0, 0, 0, 0, 0, 0, 0, 0, 0, 0, 0, 0, 0, 0,
  0, 0, 0, 0, 0, 0, 0, 0, 0, 0, 0, 0, 0, 0, 0, 0,
  0, 0, 0, 0, 0, 0, 0, 0, 0, 0, 0, 0, 0, 0, 0, 0];
const p15 = [
  0, 0, 0, 0, 0, 0, 0, 0, 0, 0, 0, 0, 0, 0, 0, 0,
  0, 0, 0, 0, 0, 0, 0, 0, 0, 0, 0, 0, 0, 0, 0, 0,
  0, 0, 0, 0.5, 0, 0, 0, 0, 0, 0, 0, 0, 0, 0, 0, 0,
  0, 0, 0, 0, 0, 0, 0, 0, 0, 0, 0, 0, 0, 0, 0, 0];
const p16 = [
  0, 0, 0, 0, 0, 0, 0, 0, 0, 0, 0, 0, 0, 0, 0, 0,
  0, 0, 0, 0, 0, 0, 0, 0, 0, 0, 0, 0, 0, 0, 0, 0,
  0, 0, 0, 0, 0, 0, 0, 0, 0, 0, 0, 0, 0, 0, 0, 0,
  0, 0, 0, 0, 0, 0, 0, 0, 0, 0, 0, 0.3, 5.0, 14.2, 1.0, 0.2];
const p17 = [
  0, 0, 0, 0, 0, 0, 0, 0, 0, 0, 0, 0, 0, 0, 0, 0,
  0, 0, 0, 0, 0, 0, 0, 0, 0, 0, 0, 0.4, 0, 0, 0, 0,
  0, 0, 0, 0, 0, 0, 0, 0, 0, 0, 0, 0, 0, 0, 0, 0,
  0, 0, 0, 0, 0, 0, 0, 0, 0, 0, 0, 0, 0, 0, 0, 0];
const p18 = [
  0, 0, 0, 0, 0, 0, 0, 1.0, 1.0, 0, 0, 0, 0, 0, 0.3, 1.1,
  0.2, 0, 0, 0, 0, 0, 0, 0, 0, 0, 0, 0, 0, 0, 0, 0,
  0, 0, 0, 0, 0, 0, 0, 0, 0, 0, 0, 0, 0, 0, 0, 0,
  0, 0, 0, 0, 0, 0, 0, 0, 0, 0, 0, 0, 0, 0, 0, 0];
const p19 = [
  0, 0, 0, 0, 0, 0, 0, 0, 0, 0, 0, 0, 0, 0, 0, 0,
  0, 0, 0, 0, 0, 0, 0, 0, 0, 0, 0, 0, 0, 0, 0, 0,
  0, 0, 0, 0, 0, 0, 0, 0, 0, 0, 0, 0, 0, 0, 0, 0,
  0, 0, 0, 0, 0, 0, 0, 0, 0, 0, 0.5, 1.8, 0.5, 0.8, 1.7, 0];
const p20 = [
  0, 0, 0, 0, 0, 0, 0, 0, 0, 0, 0, 0, 0, 0, 0, 0,
  0, 0, 0, 0, 0, 0, 0, 0, 0, 0, 0, 0, 0, 0, 0, 0,
  0, 0, 0, 0, 0, 0, 0, 0, 0, 0, 0, 0, 0.8, 1.0, 0.8, 0,
  0, 0, 0, 0, 0, 0, 0, 0, 0, 0, 0, 0, 0, 0, 0, 0];
const p21 = [
  0, 0, 0, 0, 0, 0, 0, 0, 0, 0, 0, 0, 0, 0, 0, 0,
  0, 0, 0.2, 0.2, 0, 0, 0, 0, 0, 0, 0, 0, 0, 0, 0, 0,
  0, 0, 0, 0, 0, 0, 0, 0, 0, 0, 0, 0, 0, 0, 0, 0,
  0, 0, 0, 0, 0, 0, 0, 0, 0, 0, 0, 0, 0.4, 0, 0, 0];
const p22 = [
  0, 0, 0, 0, 0, 0, 0, 0, 0, 0, 0, 0, 0, 0, 0, 0,
  0, 0, 0, 0, 0, 0, 0, 0, 0, 0, 0, 0, 0, 0, 0, 0,
  0, 0, 0, 0, 0, 0, 0, 0, 0, 0, 0, 0, 0, 0, 0, 0,
  0, 0, 0, 0, 0, 0, 0, 0, 0, 0.5, 0, 0, 0, 0, 0, 0];
const p23 = [
  0, 0, 0, 0, 0, 0, 0, 0, 0, 0, 0, 0, 0, 0, 0, 0,
  0, 0, 0, 0, 0, 0, 0, 0, 0, 0, 0, 0, 0.3, 0.3, 0, 0,
  0, 0, 0, 0, 0, 0, 0, 0, 0, 0, 0, 0, 0, 0, 0, 0,
  0, 0, 0, 0, 0, 0, 0, 0, 0, 0, 0, 0.6, 0, 0, 0, 0];
const p24 = [
  0, 0, 0, 0, 0, 0, 0, 0, 0, 0, 0, 0, 0, 0, 0, 0,
  0, 0, 0, 0, 0, 0, 0, 0, 0, 0, 0, 0, 0, 0, 0, 0,
  0, 0, 0, 0, 0, 0, 0, 0, 0, 0, 0, 0, 0, 0, 0, 0,
  0, 0, 0, 0, 0, 0, 0, 0, 0, 1.8, 0, 1.3, 0, 1.0, 11.4, 0.3];
const p25 = [
  0, 0, 0, 0, 0, 0, 0, 0, 0, 0, 0, 0, 0, 0, 0, 0,
  0, 0, 0, 0, 0, 0, 0, 0, 0, 0, 0, 0, 0, 0, 0, 0,
  0, 0.3, 0, 0, 0, 0, 0, 0, 0, 0, 0, 0, 0, 0, 0, 0,
  0, 0, 0, 0, 0, 0, 0, 0, 0, 0, 0, 0, 0, 0, 0, 0];
const p26 = [
  0, 0, 0, 0, 0, 0, 0, 0, 0, 0, 0, 0, 0, 0, 0, 0,
  0, 0, 0, 0, 0, 0, 0, 0, 0, 0, 0, 0.5, 0, 0, 0, 0,
  0, 0, 0, 0, 0, 0, 0.4, 0, 0, 0, 0, 0, 0, 0, 0, 0,
  0, 0, 0, 0, 0, 0, 0, 0, 0, 0, 0, 0, 0, 0, 0, 0];
const p27 = [
  0, 0, 0, 0, 0, 0, 0, 0, 0, 0, 0, 0, 0, 0, 0, 0,
  0, 0, 0, 0, 0, 0, 0, 0, 0, 0, 0, 0, 0, 0, 0, 0,
  0, 0, 0, 0, 0, 0, 0, 0, 0.8, 2.1, 0.3, 0, 0, 0, 0, 0,
  0, 0, 0, 0, 0, 0, 0, 0, 0, 0, 0, 0, 0, 0, 0, 0];
const p28 = [
  0, 0, 0, 0, 0.2, 0, 0, 0, 0, 0, 0, 0, 0, 0, 0, 0,
  0, 0, 0, 0, 0, 0, 0, 0, 0, 0, 0, 0, 0, 0, 0, 0,
  0, 0, 0, 0, 0, 0, 0, 0, 0, 0, 0, 0, 0, 0, 0, 0,
  0, 0, 0, 0, 0, 0, 0, 0, 0, 0, 0, 0, 0, 0, 0, 0];
const p29 = [
  0, 0, 0, 0, 0, 0, 0, 0, 0, 0, 0, 0, 0, 0.6, 0, 0,
  0, 0, 0, 0, 0, 0, 0, 0, 0, 0, 0, 0, 0, 0, 0, 0,
  0, 0, 0, 0, 0, 0, 0, 0, 0, 0, 0.4, 1.5, 0.3, 0, 0, 0,
  0, 0, 0, 0, 0, 0, 0, 0, 0, 0, 0, 0, 0, 0, 0, 0];
const p30 = [
  0, 0, 0, 0, 0, 0, 0, 0, 0, 0, 0, 0, 0, 0, 0, 0,
  0, 0, 0, 0, 0, 0, 0, 0, 0, 0, 0, 0, 0, 0, 0, 0,
  0, 0, 0, 0, 0, 0, 0, 0, 0, 0, 0, 0, 0, 0, 0, 0,
  0, 0, 0, 0, 0, 0, 0, 0, 0.3, 1.3, 0, 0, 0, 0, 0, 0];

const memberTemps = [t01, t02, t03, t04, t05, t06, t07, t08, t09, t10, t11, t12, t13, t14, t15, t16, t17, t18, t19, t20, t21, t22, t23, t24, t25, t26, t27, t28, t29, t30];
const memberPrecips = [p01, p02, p03, p04, p05, p06, p07, p08, p09, p10, p11, p12, p13, p14, p15, p16, p17, p18, p19, p20, p21, p22, p23, p24, p25, p26, p27, p28, p29, p30];

const MONO = '"DejaVu Sans Mono", "Liberation Mono", monospace';

function points(hours: number[], vals: number[]) {
  return vals.map((v, i) => ({ x: hours[i], y: v }));
}

function memberSet(vals: number[], hours: number[], color: string, axis: string) {
  return {
    data: points(hours, vals),
    yAxisID: axis,
    borderColor: color,
    backgroundColor: color,
    borderWidth: 1,
    pointStyle: 'cross',
    pointRadius: 1.6,
    pointBorderColor: color,
    pointBorderWidth: 1,
    pointHoverRadius: 0,
    fill: false,
    tension: 0,
    order: 3,
  };
}

function thickSet(vals: number[], hours: number[], color: string, width: number, axis: string, order: number) {
  return {
    data: points(hours, vals),
    yAxisID: axis,
    borderColor: color,
    backgroundColor: color,
    borderWidth: width,
    pointRadius: 0,
    pointHoverRadius: 0,
    fill: false,
    tension: 0,
    order,
  };
}

const decorPlugin = {
  id: 'meteocielDecor',
  beforeDatasetsDraw(chart: any) {
    const { ctx, chartArea } = chart;
    const yS = chart.scales.y;
    const p = Math.floor(yS.getPixelForValue(0));
    ctx.save();
    ctx.fillStyle = '#000000';
    ctx.fillRect(chartArea.left, p - 1, chartArea.right - chartArea.left, 1);
    ctx.fillRect(chartArea.left, p + 1, chartArea.right - chartArea.left, 1);
    ctx.restore();
  },
  afterDraw(chart: any) {
    const { ctx, chartArea } = chart;
    const yS = chart.scales.y;
    const yP = chart.scales.yP;
    const xS = chart.scales.x;
    ctx.save();
    ctx.fillStyle = '#000000';
    ctx.textBaseline = 'middle';
    ctx.font = '10px ' + MONO;

    // left tick labels
    ctx.textAlign = 'left';
    tempTicks.forEach((v) => ctx.fillText(String(v), 20, yS.getPixelForValue(v) + 2));
    // right tick labels
    precipTicks.forEach((v) => ctx.fillText(String(v), 710, yP.getPixelForValue(v) + 2));

    // date labels (rotated)
    dayTickHours.forEach((h, k) => {
      ctx.save();
      ctx.translate(xS.getPixelForValue(h) + 6.5, chartArea.bottom + 2);
      ctx.rotate(-Math.PI / 2);
      ctx.textAlign = 'right';
      ctx.textBaseline = 'middle';
      ctx.fillText(dateLabels[k], 0, 0);
      ctx.restore();
    });

    ctx.textAlign = 'left';
    ctx.fillText(tempPanelLabel, 60, 100);
    ctx.fillText(precipPanelLabel, 60, 525);
    ctx.fillText(leftUnit, 20, 607);
    ctx.fillText(rightUnit, 711, 607);

    // legend lines
    ctx.fillStyle = '#ff0000';
    ctx.fillRect(35, 645, 31, 4);
    ctx.fillStyle = '#0000ff';
    ctx.fillRect(225, 635, 31, 4);
    ctx.fillStyle = '#000000';
    ctx.fillRect(225, 645, 31, 4);
    ctx.fillText(meanLabel, 75, 647.5);
    ctx.fillText(controlLabel, 264, 637);
    ctx.fillText(gfsLabel, 264, 647.5);
    ctx.fillText(altitudeLabel, 179, 660.5);
    ctx.fillText(pertsLabel, 339, 652.5);

    // member colour legend
    ctx.font = 'bold 8px ' + MONO;
    ctx.textAlign = 'center';
    memberNames.forEach((n, k) => {
      ctx.fillStyle = '#000000';
      ctx.fillText(n, 405 + 11 * k, 644);
      ctx.fillStyle = memberColors[k];
      ctx.fillRect(400 + 11 * k, 650, 10, 6);
    });

    // title box
    ctx.fillStyle = '#000000';
    ctx.strokeStyle = '#000000';
    ctx.lineWidth = 1;
    ctx.strokeRect(19.5, 667.5, 421, 31);
    ctx.textAlign = 'left';
    ctx.font = 'bold 11.5px ' + MONO;
    ctx.fillText(titleLine1, 30, 678);
    ctx.fillText(copyrightLabel, 450, 692);
    ctx.font = '10px ' + MONO;
    ctx.fillText(titleLine2, 30, 692);
    ctx.fillText(runLabel, 450, 672);
    ctx.restore();
  },
};

export default function App() {
  const ref = useRef<HTMLCanvasElement | null>(null);

  useEffect(() => {
    document.body.style.margin = '0';
    const canvas = ref.current;
    if (!canvas) return;

    const datasets: any[] = [];
    memberTemps.forEach((vals, k) => datasets.push(memberSet(vals, forecastHours, memberColors[k], 'y')));
    memberPrecips.forEach((vals, k) => datasets.push(memberSet(vals, precipHours, memberColors[k], 'yP')));
    datasets.push(thickSet(controlTemp, forecastHours, '#0000ff', 3, 'y', 2));
    datasets.push(thickSet(controlPrecip, precipHours, '#0000ff', 3, 'yP', 2));
    datasets.push(thickSet(gfsTemp, forecastHours, '#000000', 3, 'y', 1));
    datasets.push(thickSet(gfsPrecip, precipHours, '#000000', 3, 'yP', 1));
    datasets.push(thickSet(meanTemp, forecastHours, '#ff0000', 4, 'y', 0));
    datasets.push(thickSet(meanPrecip, precipHours, '#ff0000', 4, 'yP', 0));

    const yMax = 47.93;
    const yMin = yMax - 600 / 7;

    const chart = new Chart(canvas, {
      type: 'line',
      data: { datasets },
      plugins: [decorPlugin],
      options: {
        animation: false,
        responsive: false,
        events: [],
        layout: { padding: 0 },
        plugins: { legend: { display: false }, tooltip: { enabled: false }, title: { display: false } },
        scales: {
          x: {
            type: 'linear',
            min: 0,
            max: 384,
            bounds: 'data',
            afterBuildTicks: (s: any) => { s.ticks = dayTickHours.map((v) => ({ value: v })); },
            afterFit: (s: any) => { s.height = 100; },
            ticks: { display: false },
            grid: { color: '#c0c0c0', lineWidth: 1, drawTicks: false },
            border: { display: true, color: '#000000', width: 1 },
          },
          y: {
            type: 'linear',
            position: 'left',
            min: yMin,
            max: yMax,
            bounds: 'data',
            afterBuildTicks: (s: any) => { s.ticks = tempTicks.map((v) => ({ value: v })); },
            afterFit: (s: any) => { s.width = 50; },
            ticks: { display: false },
            grid: {
              color: (c: any) => (c.tick && c.tick.value === 0 ? 'rgba(0,0,0,0)' : '#c0c0c0'),
              lineWidth: 1,
              drawTicks: false,
            },
            border: { display: true, color: '#000000', width: 1 },
          },
          yP: {
            type: 'linear',
            position: 'right',
            min: yMin + 30,
            max: yMax + 30,
            bounds: 'data',
            afterBuildTicks: (s: any) => { s.ticks = precipTicks.map((v) => ({ value: v })); },
            afterFit: (s: any) => { s.width = 50; },
            ticks: { display: false },
            grid: { display: false, drawTicks: false },
            border: { display: true, color: '#000000', width: 1 },
          },
        },
      } as any,
    });

    return () => chart.destroy();
  }, []);

  return <canvas ref={ref} width={740} height={700} style={{ display: 'block' }} />;
}
